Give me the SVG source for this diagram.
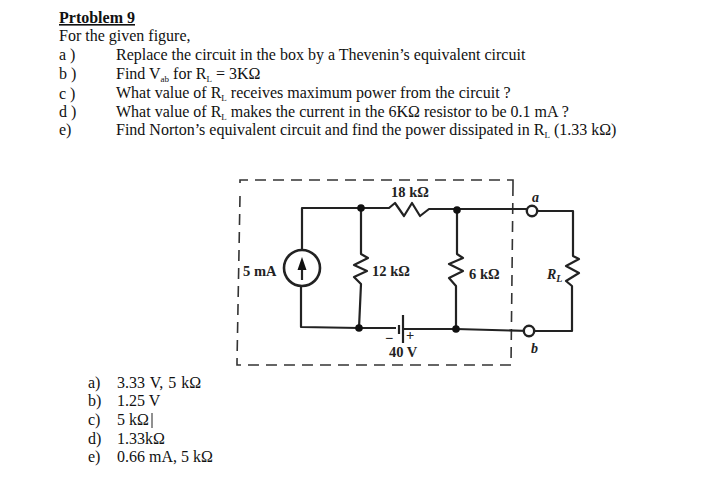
<svg xmlns="http://www.w3.org/2000/svg" width="712" height="502" viewBox="0 0 712 502">
<style>
text{font-family:"Liberation Serif","Times New Roman",serif;fill:#111}
.t{font-size:16px}
.a{font-size:16px}
.c{font-size:14.5px;font-weight:bold;fill:#222}
.i{font-size:14px;font-style:italic;font-weight:bold;fill:#222}
.w{fill:none;stroke:#222;stroke-width:2.2;stroke-linejoin:round}
.d{fill:none;stroke:#333;stroke-width:1.6;stroke-dasharray:11 7}
.n{fill:#111}
.o{fill:#fff;stroke:#222;stroke-width:2.4}
.s{font-size:9px}
</style>
<rect width="712" height="502" fill="#fff"/>
<g id="problem-text">
<text class="t" x="59" y="23" font-weight="bold" text-decoration="underline">Prtoblem 9</text>
<text class="t" x="59" y="41">For the given figure,</text>
<text class="t" x="59" y="60">a )</text>
<text class="t" x="116" y="60">Replace the circuit in the box by a Thevenin’s equivalent circuit</text>
<text class="t" x="59" y="79">b )</text>
<text class="t" x="116" y="79">Find V<tspan class="s" dy="3">ab</tspan><tspan dy="-3"> for R</tspan><tspan class="s" dy="3">L</tspan><tspan dy="-3"> = 3KΩ</tspan></text>
<text class="t" x="59" y="99">c )</text>
<text class="t" x="116" y="98">What value of R<tspan class="s" dy="3">L</tspan><tspan dy="-3"> receives maximum power from the circuit ?</tspan></text>
<text class="t" x="59" y="117">d )</text>
<text class="t" x="116" y="117">What value of R<tspan class="s" dy="3">L</tspan><tspan dy="-3"> makes the current in the 6KΩ resistor to be 0.1 mA ?</tspan></text>
<text class="t" x="59" y="135">e)</text>
<text class="t" x="116" y="135">Find Norton’s equivalent circuit and find the power dissipated in R<tspan class="s" dy="3">L</tspan><tspan dy="-3"> (1.33 kΩ)</tspan></text>
</g>
<g id="connectors">
<path class="d" d="M513 185V180H240V186M240 196L237 362V365H511L513 185"/>
<path class="w" d="M302 250V208H389L395 203L404 216L412 203L420 216L429 209H532"/>
<path class="w" d="M301 287V327L359 328H396"/>
<path class="w" d="M361 208V254L368 258L354 265L367 271L354 277L361 284L359 328"/>
<path class="w" d="M457 210V254L463 258L449 264L463 271L449 278L456 286V329"/>
<path class="w" d="M404 329L456 329L529 331"/>
<path class="w" d="M537 211H573V256L579 259L566 266L579 273L566 281L572 286V331H534"/>
<path class="w" d="M399 325V334"/>
<path class="w" d="M403 315V343"/>
</g>
<g id="source-5mA">
<circle cx="302" cy="268" r="18" fill="#fff" stroke="#222" stroke-width="2.6"/>
<path class="w" d="M302 280V262"/>
<path class="n" d="M302 257L306.500 270H297.500Z"/>
<text class="c" x="243" y="276">5 mA</text>
</g>
<g id="node-top-1"><circle class="n" cx="361" cy="208" r="3.800"/></g>
<g id="node-top-2"><circle class="n" cx="457" cy="210" r="3.800"/></g>
<g id="node-bottom-1"><circle class="n" cx="359" cy="328" r="3.800"/></g>
<g id="node-bottom-2"><circle class="n" cx="456" cy="329" r="3.800"/></g>
<g id="terminal-a"><circle class="o" cx="532" cy="211" r="5.200"/><text class="i" x="532" y="202">a</text></g>
<g id="terminal-b"><circle class="o" cx="529" cy="331" r="5.200"/><text class="i" x="531" y="353">b</text></g>
<g id="labels">
<text class="c" x="391" y="197">18 kΩ</text>
<text class="c" x="372" y="276">12 kΩ</text>
<text class="c" x="469" y="279">6 kΩ</text>
<text class="c" x="389" y="357">40 V</text>
<text class="i" x="547" y="279">R<tspan font-size="10" dy="3">L</tspan></text>
<text class="c" x="385" y="343">−</text>
<text class="c" x="406" y="340">+</text>
</g>
<g id="answers">
<text class="a" x="88" y="388">a)</text><text class="a" x="117" y="388" word-spacing="1">3.33 V, 5 kΩ</text>
<text class="a" x="88" y="406">b)</text><text class="a" x="117" y="406">1.25 V</text>
<text class="a" x="88" y="425">c)</text><text class="a" x="117" y="425">5 kΩ</text>
<path d="M152 413V428" stroke="#222" stroke-width="1"/>
<text class="a" x="88" y="444">d)</text><text class="a" x="117" y="444">1.33kΩ</text>
<text class="a" x="88" y="462">e)</text><text class="a" x="117" y="462">0.66 mA, 5 kΩ</text>
</g>
</svg>
